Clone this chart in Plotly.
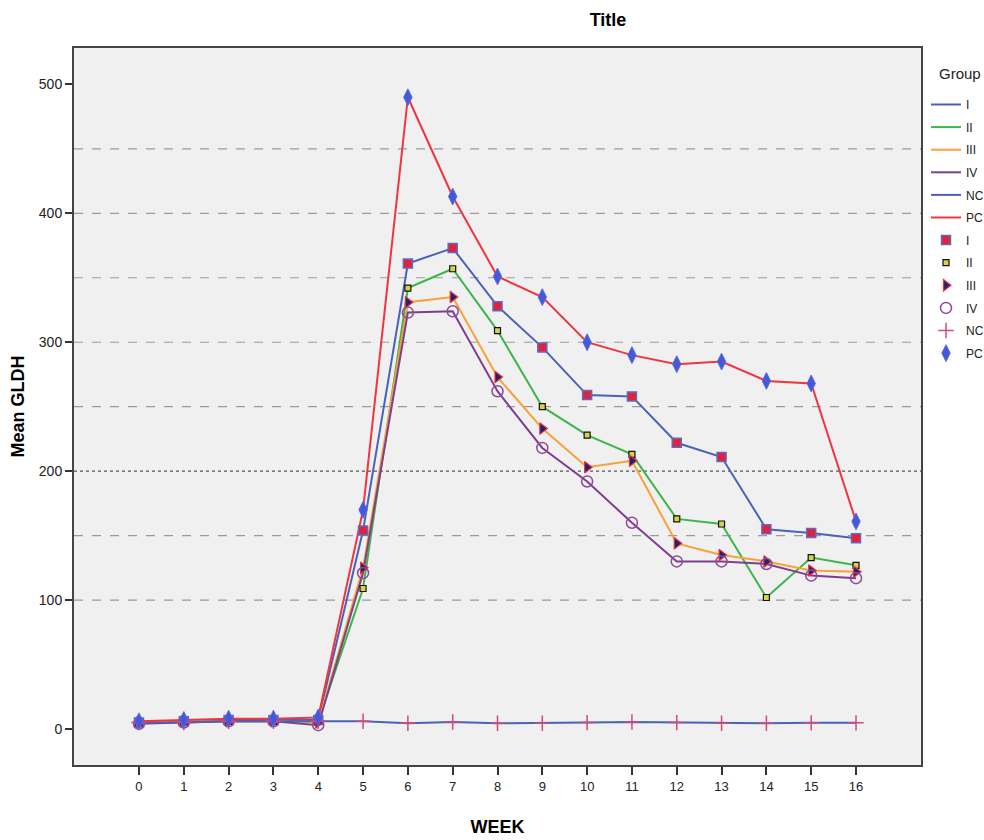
import plotly.graph_objects as go

weeks = list(range(17))
groups = ["I", "II", "III", "IV", "NC", "PC"]

gldh_I   = [5, 6, 7, 7, 7, 154, 361, 373, 328, 296, 259, 258, 222, 211, 155, 152, 148]
gldh_II  = [5, 6, 6, 6, 6, 109, 342, 357, 309, 250, 228, 213, 163, 159, 102, 133, 127]
gldh_III = [5, 6, 6, 6, 5, 125, 331, 335, 273, 233, 203, 208, 144, 135, 130, 123, 122]
gldh_IV  = [4, 5, 6, 6, 3, 121, 323, 324, 262, 218, 192, 160, 130, 130, 128, 119, 117]
gldh_NC  = [5, 5, 6, 6, 6, 6, 4.5, 5.5, 4.5, 4.5, 5, 5.5, 5, 4.5, 4.5, 4.8, 4.8]
gldh_PC  = [6, 7, 8, 8, 9, 170, 490, 413, 351, 335, 300, 290, 283, 285, 270, 268, 161]

series = [gldh_I, gldh_II, gldh_III, gldh_IV, gldh_NC, gldh_PC]

grid_levels = [100, 150, 200, 250, 300, 350, 400, 450]
y_ticks = [0, 100, 200, 300, 400, 500]

line_colors = ["#4A62B8", "#3DB54A", "#F7A235", "#7D3F8F", "#4A62B8", "#F23340"]
marker_styles = [
    dict(symbol="square", size=9, color="#E5203A", line=dict(color="#5B6BC2", width=1.5)),
    dict(symbol="square", size=6, color="#D8D24A", line=dict(color="#111111", width=1.2)),
    dict(symbol="triangle-right", size=10, color="#1C2670", line=dict(color="#F0303C", width=1.2)),
    dict(symbol="circle-open", size=11, color="#8E4A9B", line=dict(color="#8E4A9B", width=1.5)),
    dict(symbol="cross-thin-open", size=11, color="#D14A7E", line=dict(color="#D14A7E", width=1.5)),
    dict(symbol="diamond-tall", size=12, color="#4458D8", line=dict(color="#5A6BE0", width=1)),
]

font_main = "Liberation Sans, Arial, sans-serif"

fig = go.Figure()
for i, (name, vals) in enumerate(zip(groups, series)):
    fig.add_trace(go.Scatter(
        x=weeks, y=vals, mode="lines", name=name,
        line=dict(color=line_colors[i], width=2),
        legendgroup=f"l{i}", showlegend=True,
    ))
for i, (name, vals) in enumerate(zip(groups, series)):
    fig.add_trace(go.Scatter(
        x=weeks, y=vals, mode="markers", name=name,
        marker=marker_styles[i],
        legendgroup=f"m{i}", showlegend=True,
    ))

for lvl in grid_levels:
    fig.add_shape(
        type="line", xref="paper", x0=0, x1=1, yref="y", y0=lvl, y1=lvl,
        line=dict(color="#555555" if lvl == 200 else "#9A9A9A", width=1.2,
                  dash="dot" if lvl == 200 else "dash"),
        layer="below",
    )

fig.add_annotation(
    text="Group", xref="paper", yref="paper",
    x=(937 - 74) / (921 - 74), y=(765 - 73) / (765 - 48),
    xanchor="left", yanchor="middle", showarrow=False,
    font=dict(family=font_main, size=15, color="#222"),
)

fig.update_layout(
    width=984, height=840,
    margin=dict(l=74, r=63, t=48, b=75),
    paper_bgcolor="white",
    plot_bgcolor="#F0F0F0",
    title=dict(text="<b>Title</b>", x=608 / 984, xanchor="center", xref="container",
               y=1 - 20 / 840, yanchor="middle", yref="container",
               font=dict(family=font_main, size=18, color="black")),
    legend=dict(
        x=926 / 984, xref="container", xanchor="left",
        y=1 - 90 / 840, yref="container", yanchor="top",
        font=dict(family=font_main, size=12, color="#222"),
        tracegroupgap=3.6,
        bgcolor="rgba(0,0,0,0)",
        itemwidth=30,
    ),
    xaxis=dict(
        range=[-1.45, 17.45], tickmode="array", tickvals=weeks,
        ticks="outside", ticklen=8, tickwidth=1.5, tickcolor="#333",
        showgrid=False, zeroline=False, automargin=False,
        showline=True, mirror=True, linecolor="#444", linewidth=2,
        tickfont=dict(family=font_main, size=13, color="#222"),
        title=dict(text="<b>WEEK</b>", standoff=28,
                   font=dict(family=font_main, size=18, color="black")),
    ),
    yaxis=dict(
        range=[-27.9, 528.2], tickmode="array", tickvals=y_ticks,
        ticks="outside", ticklen=7, tickwidth=1.5, tickcolor="#333",
        showgrid=False, zeroline=False, automargin=False,
        showline=True, mirror=True, linecolor="#444", linewidth=2,
        tickfont=dict(family=font_main, size=14, color="#222"),
        title=dict(text="<b>Mean GLDH</b>", standoff=10,
                   font=dict(family=font_main, size=18, color="black")),
    ),
)

fig.write_html("out.html", config={"displayModeBar": False},
               post_script="document.body.style.margin='0px';")
